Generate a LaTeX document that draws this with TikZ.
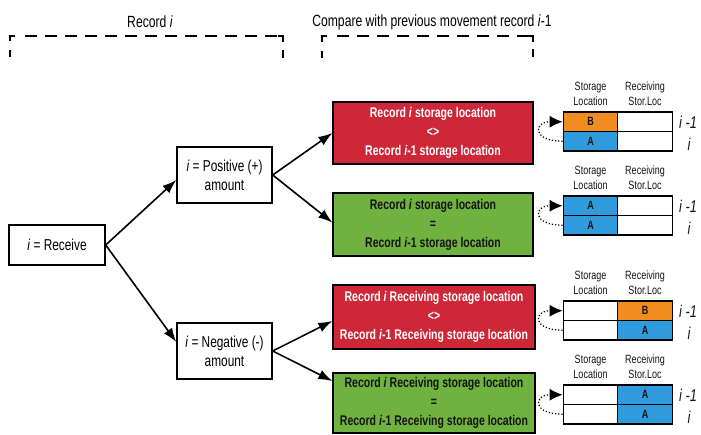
\documentclass[tikz,border=0pt]{standalone}
\usepackage{fontspec}
\setmainfont{Liberation Sans}[FakeStretch=0.75]
\usetikzlibrary{arrows.meta,calc}

\definecolor{cred}{RGB}{206,40,56}
\definecolor{cgreen}{RGB}{112,178,64}
\definecolor{corange}{RGB}{240,140,32}
\definecolor{cblue}{RGB}{48,155,220}
\definecolor{cdark}{RGB}{20,20,20}

\tikzset{
  plainbox/.style={draw, line width=1.4pt, fill=white, align=center, inner sep=0pt,
    font=\fontsize{15.8}{19}\selectfont},
  cmpbox/.style={draw=black, line width=1.3pt, align=center, inner sep=0pt,
    minimum width=200pt, font=\bfseries\fontsize{14}{19}\selectfont},
  cmpred/.style={cmpbox, fill=cred, text=white},
  cmpgreen/.style={cmpbox, fill=cgreen, text=cdark},
  flow/.style={-{Latex[length=14pt,width=10pt]}, line width=1.6pt},
  cell/.style={draw, line width=1.3pt, minimum width=54.5pt, minimum height=19.5pt,
    inner sep=0pt, text=cdark, font=\bfseries\fontsize{12}{12}\selectfont},
  colhead/.style={align=center, inner sep=0pt, text=cdark,
    font=\fontsize{12}{15}\selectfont},
  rowlabel/.style={inner sep=0pt, text=cdark, font=\itshape\fontsize{17}{17}\selectfont},
  backref/.style={dotted, line width=1.2pt, -{Latex[length=13pt,width=12pt]}},
  bracket/.style={line width=1.8pt, dash pattern=on 12pt off 8pt},
  tick/.style={line width=1.8pt},
  title/.style={inner sep=0pt, font=\fontsize{16.2}{16}\selectfont}
}

\begin{document}
\begin{tikzpicture}[x=1pt,y=-1pt]
\useasboundingbox[fill=white] (0,0) rectangle (701,435);

% section headings with their dashed brackets
\node[title] (h1) at (150,22) {Record \textit{i}};
\node[title] (h2) at (432,22) {Compare with previous movement record \textit{i}-1};

\draw[tick] (10,41) -- (10,36) -- (15,36);
\draw[bracket] (25,36) -- (278,36);
\draw[tick] (278,36) -- (283,36) -- (283,42);
\draw[tick] (10,50) -- (10,57);
\draw[tick] (283,50) -- (283,58);

\draw[tick] (322,42) -- (322,36) -- (327,36);
\draw[bracket] (337,36) -- (528,36);
\draw[tick] (528,36) -- (533,36) -- (533,42);
\draw[tick] (322,51) -- (322,58);
\draw[tick] (533,49) -- (533,57);

% decision tree
\node[plainbox, minimum width=96pt, minimum height=40pt] (rec) at (57,245)
  {\textit{i} = Receive};
\node[plainbox, minimum width=95pt, minimum height=56pt] (pos) at (224.5,175)
  {\textit{i} = Positive (+)\\amount};
\node[plainbox, minimum width=95pt, minimum height=56pt] (neg) at (224.5,351)
  {\textit{i} = Negative (-)\\amount};

\node[cmpred, minimum height=62pt] (r1) at (433,133)
  {Record \textit{i} storage location\\<>\\Record \textit{i}-1 storage location};
\node[cmpgreen, minimum height=63pt] (g1) at (433,224.5)
  {Record \textit{i} storage location\\=\\Record \textit{i}-1 storage location};
\node[cmpred, minimum width=202pt, minimum height=64pt] (r2) at (434,317)
  {Record \textit{i} Receiving storage location\\<>\\Record \textit{i}-1 Receiving storage location};
\node[cmpgreen, minimum width=202pt, minimum height=60pt] (g2) at (434,403)
  {Record \textit{i} Receiving storage location\\=\\Record \textit{i}-1 Receiving storage location};

\draw[flow] (rec.east) -- ($(pos.west)+(0,5)$);
\draw[flow] (rec.east) -- ($(neg.west)+(0,-9)$);
\draw[flow] (pos.east) -- (r1.west);
\draw[flow] (pos.east) -- ($(g1.west)+(0,-2)$);
\draw[flow] (neg.east) -- ($(r2.west)+(0,4)$);
\draw[flow] (neg.east) -- ($(g2.west)+(0,-22)$);

% storage-location tables: row i-1 on top, row i below
\foreach \n/\top/\fa/\ta/\fb/\tb/\fc/\tc/\fd/\td in {
  1/112/corange/B/white//cblue/A/white/,
  2/196/cblue/A/white//cblue/A/white/,
  3/301/white//corange/B/white//cblue/A,
  4/385/white//cblue/A/white//cblue/A}{
  \node[colhead] (sh\n) at (590.5,\top-18) {Storage\\Location};
  \node[colhead] (rh\n) at (645,\top-18) {Receiving\\Stor.Loc};
  \node[cell, fill=\fa] (a\n) at (590.5,\top+9.75) {\ta};
  \node[cell, fill=\fb] (b\n) at (645,\top+9.75) {\tb};
  \node[cell, fill=\fc] (c\n) at (590.5,\top+29.25) {\tc};
  \node[cell, fill=\fd] (d\n) at (645,\top+29.25) {\td};
  \node[rowlabel] (lp\n) at (688,\top+10) {i -1};
  \node[rowlabel] (li\n) at (689,\top+32) {i};
  \draw[backref] (c\n.west) .. controls +(-30,0) and +(-30,0) .. (a\n.west);
}
\end{tikzpicture}
\end{document}
